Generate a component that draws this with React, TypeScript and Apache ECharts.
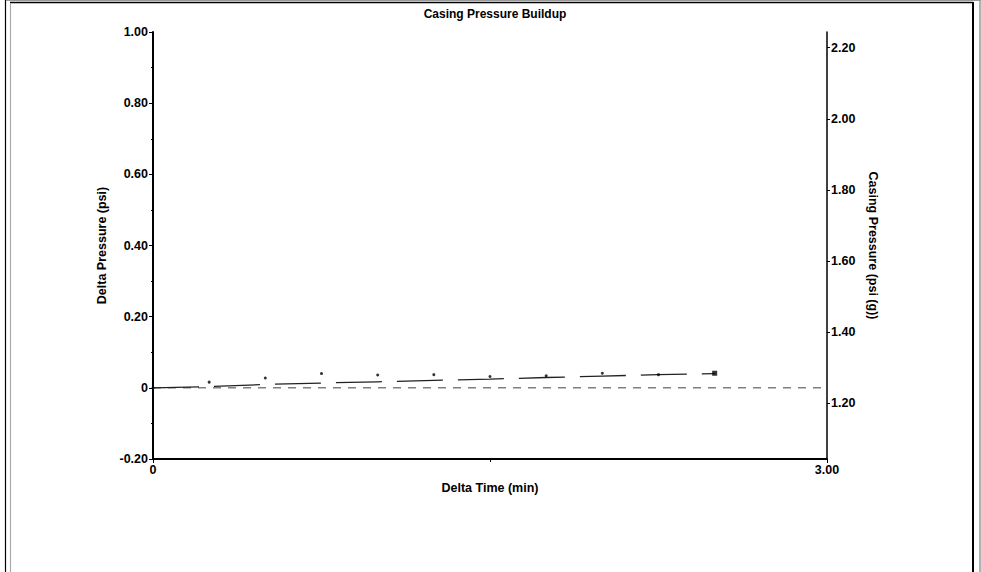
import React, { useEffect, useRef } from "react";
import * as echarts from "echarts";

const titleText = "Casing Pressure Buildup";
const xName = "Delta Time (min)";
const leftName = "Delta Pressure (psi)";
const rightName = "Casing Pressure (psi (g))";

// Delta time (min) of readings
const times = [0, 0.25, 0.5, 0.75, 1.0, 1.25, 1.5, 1.75, 2.0, 2.25, 2.5];
// Measured delta pressure points (psi)
const pointValues = [0, 0.016, 0.0275, 0.04, 0.036, 0.037, 0.032, 0.034, 0.041, 0.037, 0.041];
// Fitted / trend line (psi)
const trendValues = [0, 0.0035, 0.0095, 0.0135, 0.017, 0.021, 0.0245, 0.029, 0.033, 0.037, 0.04];
// Baseline delta pressure
const baselineValue = 0;

const leftMin = -0.2;
const leftMax = 1.0;
const rightMin = 1.044;
const rightMax = 2.244;
const rightTicks = [1.2, 1.4, 1.6, 1.8, 2.0, 2.2];
const xMin = 0;
const xMax = 3;

const FONT = "Liberation Sans, Arial, sans-serif";

export default function App() {
  const ref = useRef<HTMLDivElement>(null);
  useEffect(() => {
    if (!ref.current) return;
    const chart = echarts.init(ref.current, undefined, { renderer: "svg" });
    const lastIdx = times.length - 1;
    const labelStyle = {
      color: "#000",
      fontWeight: "bold" as const,
      fontSize: 12.5,
      fontFamily: FONT,
    };
    const fmt = (v: number) => (Math.abs(v) < 1e-9 ? "0" : v.toFixed(2));
    chart.setOption({
      animation: false,
      backgroundColor: "#fff",
      title: {
        text: titleText,
        left: 490,
        textAlign: "center",
        top: 3,
        textStyle: { ...labelStyle, fontSize: 12 },
      },
      grid: { left: 153, right: 154, top: 32, bottom: 113 },
      xAxis: {
        type: "value",
        min: xMin,
        max: xMax,
        interval: 3,
        name: xName,
        nameLocation: "middle",
        nameGap: 22,
        nameTextStyle: labelStyle,
        axisLine: { onZero: false, lineStyle: { color: "#000", width: 2 } },
        axisTick: { show: true, length: 4, lineStyle: { color: "#000" } },
        minorTick: { show: true, splitNumber: 2, length: 3, lineStyle: { color: "#000" } },
        axisLabel: { ...labelStyle, margin: 4, formatter: fmt },
        splitLine: { show: false },
      },
      yAxis: [
        {
          type: "value",
          min: leftMin,
          max: leftMax,
          interval: 0.2,
          name: leftName,
          nameLocation: "middle",
          nameGap: 43,
          nameTextStyle: labelStyle,
          axisLine: { show: true, onZero: false, lineStyle: { color: "#000", width: 2 } },
          axisTick: { show: true, length: 4, lineStyle: { color: "#000" } },
          minorTick: { show: true, splitNumber: 2, length: 2, lineStyle: { color: "#000" } },
          axisLabel: { ...labelStyle, margin: 5, formatter: fmt },
          splitLine: { show: false },
        },
        {
          type: "value",
          position: "right",
          min: rightMin,
          max: rightMax,
          name: rightName,
          nameLocation: "middle",
          nameRotate: -90,
          nameGap: 39,
          nameTextStyle: labelStyle,
          axisLine: { show: true, onZero: false, lineStyle: { color: "#000", width: 1.5 } },
          axisTick: { show: true, length: 3, customValues: rightTicks, lineStyle: { color: "#000" } },
          axisLabel: { ...labelStyle, margin: 4, customValues: rightTicks, formatter: (v: number) => v.toFixed(2) },
          splitLine: { show: false },
        },
      ],
      series: [
        {
          type: "line",
          data: [[xMin, baselineValue], [xMax, baselineValue]],
          showSymbol: false,
          symbol: "none",
          lineStyle: { color: "#808080", width: 1.5, type: [8, 7] },
          z: 1,
        },
        {
          type: "line",
          data: times.map((t, i) => [t, trendValues[i]]),
          showSymbol: false,
          symbol: "none",
          lineStyle: { color: "#222", width: 1.3, type: [46, 15] },
          z: 2,
        },
        {
          type: "scatter",
          data: times.slice(0, lastIdx).map((t, i) => [t, pointValues[i]]),
          symbol: "circle",
          symbolSize: 3,
          itemStyle: { color: "#000" },
          z: 3,
        },
        {
          type: "scatter",
          data: [[times[lastIdx], pointValues[lastIdx]]],
          symbol: "rect",
          symbolSize: 5,
          itemStyle: { color: "#000" },
          z: 3,
        },
      ],
      graphic: [
        { type: "line", shape: { x1: 5, y1: 0.5, x2: 981, y2: 0.5 }, style: { stroke: "#999", lineWidth: 1 } },
        { type: "line", shape: { x1: 10, y1: 2.5, x2: 973, y2: 2.5 }, style: { stroke: "#000", lineWidth: 1.5 } },
        { type: "line", shape: { x1: 5.5, y1: 0, x2: 5.5, y2: 572 }, style: { stroke: "#000", lineWidth: 1.2 } },
        { type: "line", shape: { x1: 10.5, y1: 3, x2: 10.5, y2: 572 }, style: { stroke: "#aaa", lineWidth: 1.2 } },
        { type: "line", shape: { x1: 973, y1: 2, x2: 973, y2: 572 }, style: { stroke: "#000", lineWidth: 2 } },
        { type: "line", shape: { x1: 980, y1: 0, x2: 980, y2: 572 }, style: { stroke: "#999", lineWidth: 1.5 } },
      ],
    });
    return () => chart.dispose();
  }, []);
  return (
    <div
      ref={ref}
      style={{ position: "fixed", left: 0, top: 0, width: 981, height: 572 }}
    />
  );
}
